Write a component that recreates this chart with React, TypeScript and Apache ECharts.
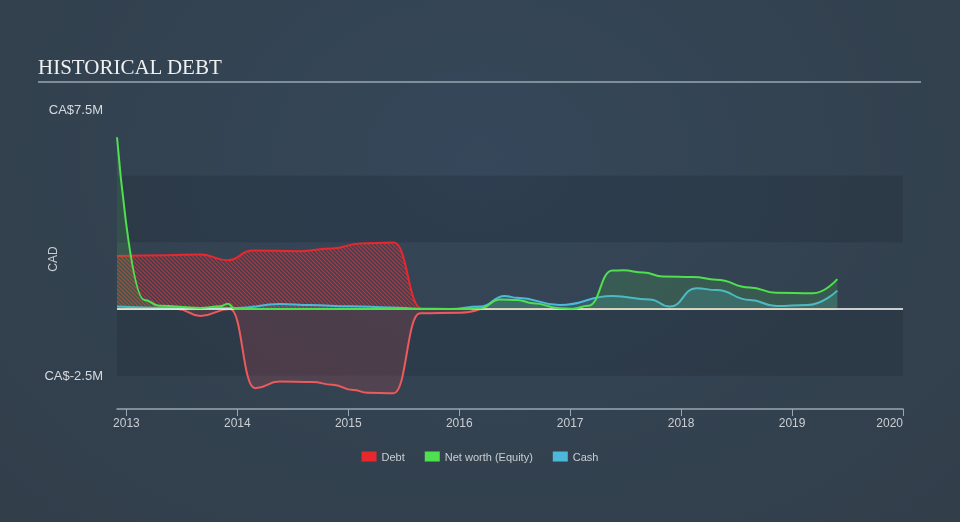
import React, { useEffect, useRef } from "react";
import * as echarts from "echarts";

// ---- Data (values in CA$ millions) ----
const yearTicks = ["2013", "2014", "2015", "2016", "2017", "2018", "2019", "2020"];
const yTickLabels = [7.5, -2.5];

const debtDates = [
  "2012-12-01", "2013-05-15", "2013-09-01", "2013-12-01",
  "2014-02-20", "2014-07-25", "2014-11-10", "2015-02-10", "2015-05-30",
  "2015-09-01", "2016-06-01", "2017-06-01", "2018-06-01", "2019-05-30",
];
const debtValues = [
  1.99, 2.02, 2.04, 1.83,
  2.19, 2.17, 2.27, 2.46, 2.49,
  0.0, 0.0, 0.0, 0.0, 0.0,
];

const netDebtDates = [
  "2012-12-01", "2013-06-17", "2013-09-01", "2013-12-08",
  "2014-02-28", "2014-05-20", "2014-09-05", "2014-11-10", "2015-01-17",
  "2015-03-05", "2015-05-30", "2015-08-25",
  "2016-01-05", "2016-03-10",
];
const netDebtValues = [
  0.0, 0.0, -0.26, 0.0,
  -2.97, -2.72, -2.74, -2.84, -3.04,
  -3.14, -3.16, -0.16,
  -0.14, 0.0,
];

const equityDates = [
  "2012-12-01", "2013-03-01", "2013-04-20", "2013-09-01", "2013-11-05",
  "2013-12-01", "2013-12-25", "2016-02-05", "2016-03-10", "2016-05-15", "2016-07-10",
  "2016-09-01", "2016-11-28", "2017-01-10", "2017-03-01", "2017-05-20",
  "2017-06-25", "2017-08-30", "2017-11-02", "2018-02-10", "2018-04-27", "2018-08-15",
  "2018-11-10", "2019-03-10", "2019-05-30",
];
const equityValues = [
  6.44, 0.34, 0.12, 0.04, 0.1,
  0.2, 0.0, 0.0, 0.03, 0.36, 0.34,
  0.22, 0.03, 0.01, 0.12, 1.44,
  1.45, 1.37, 1.22, 1.2, 1.1, 0.81,
  0.61, 0.59, 1.12,
];

const cashDates = [
  "2012-12-01", "2013-04-01", "2013-09-01", "2014-01-01", "2014-05-20",
  "2014-08-30", "2015-01-08", "2015-05-20", "2015-08-25", "2015-12-01", "2016-03-10",
  "2016-05-30", "2016-07-10", "2016-11-28", "2017-05-20", "2017-09-20",
  "2017-11-25", "2018-02-20", "2018-04-27", "2018-08-15", "2018-11-10",
  "2019-02-20", "2019-05-30",
];
const cashValues = [
  0.09, 0.05, 0.03, 0.04, 0.19,
  0.15, 0.1, 0.06, 0.01, 0.0, 0.09,
  0.49, 0.42, 0.15, 0.49, 0.36,
  0.09, 0.78, 0.71, 0.34, 0.11,
  0.15, 0.69,
];

const xStart = "2012-12-01";
const xEnd = "2020-01-01";

// date string -> fractional year (for a linear value axis)
const toYear = (s: string) => {
  const [y, m, d] = s.split("-").map(Number);
  const t = Date.UTC(y, m - 1, d);
  const a = Date.UTC(y, 0, 1);
  const b = Date.UTC(y + 1, 0, 1);
  return y + (t - a) / (b - a);
};
const pair = (d: string[], v: number[]) => d.map((x, i) => [toYear(x), v[i]]);

function makeHatch() {
  const c = document.createElement("canvas");
  c.width = 4;
  c.height = 4;
  const ctx = c.getContext("2d")!;
  ctx.fillStyle = "rgba(120,50,60,0.18)";
  ctx.fillRect(0, 0, 4, 4);
  ctx.strokeStyle = "rgba(226,62,70,0.62)";
  ctx.lineWidth = 1.2;
  ctx.beginPath();
  ctx.moveTo(-1, -1);
  ctx.lineTo(5, 5);
  ctx.moveTo(-1, 3);
  ctx.lineTo(1, 5);
  ctx.moveTo(3, -1);
  ctx.lineTo(5, 1);
  ctx.stroke();
  return c;
}

export default function App() {
  const ref = useRef<HTMLDivElement>(null);

  useEffect(() => {
    if (!ref.current) return;
    const chart = echarts.init(ref.current, null, { renderer: "svg" });
    const yearVals = yearTicks.map(Number);
    const hatch = makeHatch();
    const smooth = 0.5;

    chart.setOption({
      animation: false,
      backgroundColor: "transparent",
      textStyle: { fontFamily: "Liberation Sans, Arial, sans-serif" },
      graphic: [
        {
          type: "text",
          left: 38,
          top: 56,
          style: {
            text: "HISTORICAL DEBT",
            fill: "#eef0f2",
            font: "21px 'Liberation Serif', 'Times New Roman', serif",
          },
        },
        {
          type: "line",
          shape: { x1: 38, y1: 82, x2: 921, y2: 82 },
          style: { stroke: "#9aa6b2", lineWidth: 1.5 },
        },
      ],
      legend: {
        data: ["Debt", "Net worth (Equity)", "Cash"],
        left: "center",
        top: 446,
        icon: "rect",
        itemWidth: 15,
        itemHeight: 10,
        itemGap: 20,
        textStyle: { color: "#c9ced4", fontSize: 11 },
      },
      grid: { left: 117, right: 57, top: 109, bottom: 113, containLabel: false },
      xAxis: {
        type: "value",
        min: toYear(xStart),
        max: toYear(xEnd),
        axisLine: { show: true, onZero: false, lineStyle: { color: "#9aa6b2", width: 1.5 } },
        axisTick: {
          show: true,
          length: 7,
          customValues: yearVals,
          lineStyle: { color: "#9aa6b2" },
        },
        axisLabel: {
          customValues: yearVals,
          formatter: (v: number) => String(Math.round(v)),
          color: "#c9ced4",
          fontSize: 12,
          margin: 8,
          alignMaxLabel: "right",
        },
        splitLine: { show: false },
      },
      yAxis: {
        type: "value",
        min: -3.75,
        max: 7.5,
        interval: 1.25,
        name: "CAD",
        nameLocation: "middle",
        nameGap: 58,
        nameMoveOverlap: false,
        nameRotate: 90,
        nameTextStyle: { color: "#c9ced4", fontSize: 12 },
        axisLine: { show: false },
        axisTick: { show: false },
        splitLine: { show: false },
        axisLabel: {
          customValues: yTickLabels,
          formatter: (v: number) => `CA$${v}M`,
          color: "#d6dadf",
          fontSize: 13,
          margin: 14,
        },
      },
      series: [
        {
          name: "Net debt",
          type: "line",
          data: pair(netDebtDates, netDebtValues),
          smooth,
          smoothMonotone: "x",
          showSymbol: false,
          lineStyle: { color: "#ec5a5c", width: 2 },
          itemStyle: { color: "#ec5a5c" },
          areaStyle: { color: "rgba(210,70,80,0.28)" },
          z: 2,
          markArea: {
            silent: true,
            itemStyle: { color: "rgba(22,32,44,0.22)" },
            data: [
              [{ yAxis: 2.5 }, { yAxis: 5 }],
              [{ yAxis: -2.5 }, { yAxis: 0 }],
            ],
          },
          markLine: {
            silent: true,
            symbol: "none",
            label: { show: false },
            lineStyle: { color: "#ffffff", width: 1.5, type: "solid" },
            data: [{ yAxis: 0 }],
          },
        },
        {
          name: "Debt",
          type: "line",
          data: pair(debtDates, debtValues),
          smooth,
          smoothMonotone: "x",
          showSymbol: false,
          lineStyle: { color: "#e8282c", width: 2 },
          itemStyle: { color: "#e8282c" },
          areaStyle: { color: { image: hatch, repeat: "repeat" }, opacity: 1 },
          z: 3,
        },
        {
          name: "Cash",
          type: "line",
          data: pair(cashDates, cashValues),
          smooth,
          smoothMonotone: "x",
          showSymbol: false,
          lineStyle: { color: "#4cb8dc", width: 2 },
          itemStyle: { color: "#4cb8dc" },
          areaStyle: { color: "rgba(76,184,220,0.28)" },
          z: 4,
        },
        {
          name: "Net worth (Equity)",
          type: "line",
          data: pair(equityDates, equityValues),
          smooth,
          smoothMonotone: "x",
          showSymbol: false,
          lineStyle: { color: "#4ee04e", width: 2 },
          itemStyle: { color: "#4ee04e" },
          areaStyle: { color: "rgba(78,200,78,0.25)" },
          z: 5,
        },
      ],
    });

    return () => chart.dispose();
  }, []);

  return (
    <div
      style={{
        position: "fixed",
        left: 0,
        top: 0,
        width: 960,
        height: 522,
        background: "radial-gradient(ellipse at 50% 30%, #35475a 0%, #334250 55%, #323e4a 100%)",
      }}
    >
      <div ref={ref} style={{ width: 960, height: 522 }} />
    </div>
  );
}
